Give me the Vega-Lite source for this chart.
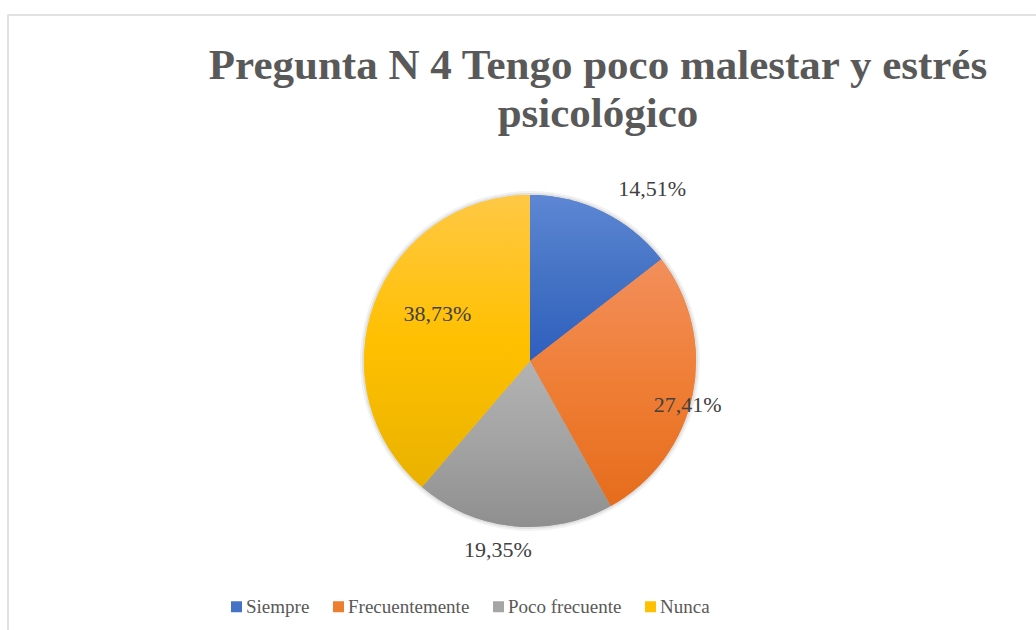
{
  "$schema": "https://vega.github.io/schema/vega-lite/v6.json",
  "autosize": "none",
  "width": 1044,
  "height": 692,
  "padding": {"left": 8, "top": 15, "right": 0, "bottom": 0},
  "background": "white",
  "config": {
    "view": {"stroke": null},
    "font": "Liberation Serif, Times New Roman, serif"
  },
  "title": {
    "text": ["Pregunta N 4 Tengo poco malestar y estrés", "psicológico"],
    "font": "Liberation Serif, Times New Roman, serif",
    "fontSize": 43,
    "fontWeight": "bold",
    "color": "#595959",
    "anchor": "middle",
    "frame": "group",
    "baseline": "alphabetic",
    "lineHeight": 48,
    "offset": -156,
    "dx": 68
  },
  "data": {
    "values": [
      {"cat": "Siempre", "ord": 1, "pct": 14.51, "label": "14,51%"},
      {"cat": "Frecuentemente", "ord": 2, "pct": 27.41, "label": "27,41%"},
      {"cat": "Poco frecuente", "ord": 3, "pct": 19.35, "label": "19,35%"},
      {"cat": "Nunca", "ord": 4, "pct": 38.73, "label": "38,73%"}
    ]
  },
  "layer": [
    {
      "data": {"values": [{"frame": 1}]},
      "mark": {"type": "rect", "fill": null, "stroke": "#d9d9d9", "strokeWidth": 1.5},
      "encoding": {}
    },
    {
      "mark": {"type": "arc", "radius": 170, "fill": "#000000", "opacity": 0.05},
      "encoding": {
        "theta": {"field": "pct", "type": "quantitative", "stack": true},
        "order": {"field": "ord", "type": "quantitative"}
      }
    },
    {
      "mark": {"type": "arc", "radius": 168, "fill": "#000000", "opacity": 0.07},
      "encoding": {
        "theta": {"field": "pct", "type": "quantitative", "stack": true},
        "order": {"field": "ord", "type": "quantitative"}
      }
    },
    {
      "mark": {"type": "arc", "radius": 166},
      "encoding": {
        "theta": {"field": "pct", "type": "quantitative", "stack": true},
        "order": {"field": "ord", "type": "quantitative"},
        "color": {
          "field": "cat",
          "type": "nominal",
          "scale": {
            "domain": ["Siempre", "Frecuentemente", "Poco frecuente", "Nunca"],
            "range": ["#4472c4", "#ed7d31", "#a5a5a5", "#ffc000"]
          },
          "legend": {
            "title": null,
            "orient": "none",
            "legendX": 219,
            "legendY": 582,
            "direction": "horizontal",
            "symbolType": "square",
            "symbolSize": 121,
            "symbolStrokeWidth": 0,
            "labelFont": "Liberation Serif, Times New Roman, serif",
            "labelFontSize": 19,
            "labelColor": "#595959",
            "labelOffset": 0,
            "columnPadding": 19,
            "padding": 0
          }
        }
      }
    },
    {
      "mark": {"type": "arc", "radius": 166},
      "encoding": {
        "theta": {"field": "pct", "type": "quantitative", "stack": true},
        "order": {"field": "ord", "type": "quantitative"},
        "color": {
          "condition": [
            {"test": "datum.cat === 'Siempre'", "value": {"gradient": "linear", "x1": 0, "y1": 0, "x2": 0, "y2": 1, "stops": [{"offset": 0, "color": "#5d87d4"}, {"offset": 0.5, "color": "#4472c4"}, {"offset": 1, "color": "#2f5fbf"}]}},
            {"test": "datum.cat === 'Frecuentemente'", "value": {"gradient": "linear", "x1": 0, "y1": 0, "x2": 0, "y2": 1, "stops": [{"offset": 0, "color": "#f28f5c"}, {"offset": 0.5, "color": "#ef7e35"}, {"offset": 1, "color": "#e66c1c"}]}},
            {"test": "datum.cat === 'Poco frecuente'", "value": {"gradient": "linear", "x1": 0, "y1": 0, "x2": 0, "y2": 1, "stops": [{"offset": 0, "color": "#b3b3b3"}, {"offset": 0.5, "color": "#a3a3a3"}, {"offset": 1, "color": "#8f8f8f"}]}}
          ],
          "value": {"gradient": "linear", "x1": 0, "y1": 0, "x2": 0, "y2": 1, "stops": [{"offset": 0, "color": "#ffc845"}, {"offset": 0.5, "color": "#ffc000"}, {"offset": 1, "color": "#e9b200"}]}
        }
      }
    },
    {
      "mark": {"type": "text", "radius": 200, "dx": 34, "dy": 8, "fontSize": 22, "font": "Liberation Serif, Times New Roman, serif", "color": "#404040"},
      "encoding": {
        "theta": {"field": "pct", "type": "quantitative", "stack": true},
        "order": {"field": "ord", "type": "quantitative"},
        "text": {"condition": {"test": "datum.cat === 'Siempre'", "field": "label"}, "value": ""}
      }
    },
    {
      "mark": {"type": "text", "radius": 164, "dx": -3, "dy": 11, "fontSize": 22, "font": "Liberation Serif, Times New Roman, serif", "color": "#404040"},
      "encoding": {
        "theta": {"field": "pct", "type": "quantitative", "stack": true},
        "order": {"field": "ord", "type": "quantitative"},
        "text": {"condition": {"test": "datum.cat === 'Frecuentemente'", "field": "label"}, "value": ""}
      }
    },
    {
      "mark": {"type": "text", "radius": 192, "dx": -13, "dy": -2, "fontSize": 22, "font": "Liberation Serif, Times New Roman, serif", "color": "#404040"},
      "encoding": {
        "theta": {"field": "pct", "type": "quantitative", "stack": true},
        "order": {"field": "ord", "type": "quantitative"},
        "text": {"condition": {"test": "datum.cat === 'Poco frecuente'", "field": "label"}, "value": ""}
      }
    },
    {
      "mark": {"type": "text", "radius": 105, "dx": 6, "dy": -11, "fontSize": 22, "font": "Liberation Serif, Times New Roman, serif", "color": "#404040"},
      "encoding": {
        "theta": {"field": "pct", "type": "quantitative", "stack": true},
        "order": {"field": "ord", "type": "quantitative"},
        "text": {"condition": {"test": "datum.cat === 'Nunca'", "field": "label"}, "value": ""}
      }
    }
  ]
}
